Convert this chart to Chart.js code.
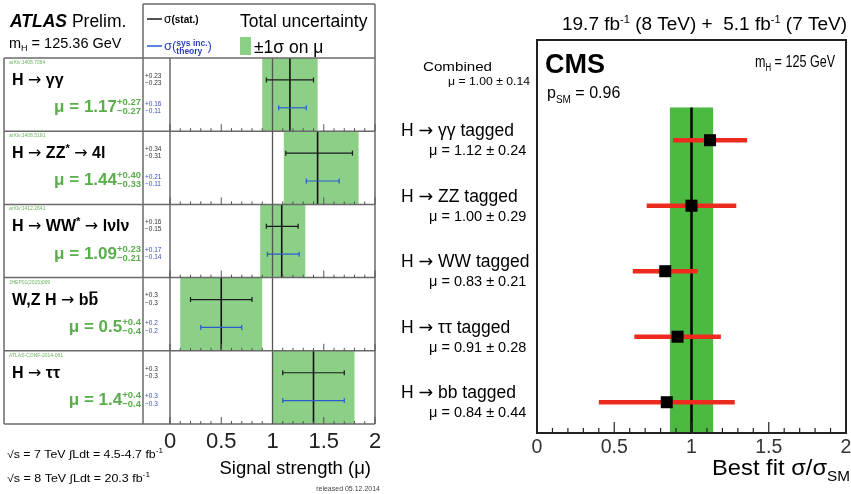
<!DOCTYPE html>
<html>
<head>
<meta charset="utf-8">
<script src="https://cdn.jsdelivr.net/npm/chart.js@4/dist/chart.umd.min.js"></script>
<style>
  html, body { margin: 0; padding: 0; background: #fff; }
  #wrap { position: relative; width: 851px; height: 494px; }
  #wrap canvas { position: absolute; left: 0; top: 0; }
</style>
</head>
<body>
<div id="wrap">
  <canvas id="atlas" width="851" height="494"></canvas>
  <canvas id="cms" width="851" height="494"></canvas>
</div>
<script>
// signal strength axis (both panels)
const muTicks = [0, 0.5, 1, 1.5, 2];

// ATLAS channels, top to bottom
const atlasChannels = ['H → γγ', 'H → ZZ* → 4l', 'H → WW* → lνlν', 'W,Z H → bb\u0304', 'H → ττ'];
const atlasRefs = ['arXiv:1408.7084', 'arXiv:1408.5191', 'arXiv:1412.2641', 'JHEP01(2015)069', 'ATLAS-CONF-2014-061'];
const atlasDigits = [2, 2, 2, 1, 1];
const atlasMu = [1.17, 1.44, 1.09, 0.5, 1.4];
const atlasTotUp = [0.27, 0.40, 0.23, 0.4, 0.4];
const atlasTotDn = [0.27, 0.33, 0.21, 0.4, 0.4];
const atlasStatUp = [0.23, 0.34, 0.16, 0.3, 0.3];
const atlasStatDn = [0.23, 0.31, 0.15, 0.3, 0.3];
const atlasSysUp = [0.16, 0.21, 0.17, 0.2, 0.3];
const atlasSysDn = [0.11, 0.11, 0.14, 0.2, 0.3];

// CMS channels, top to bottom
const cmsChannels = ['H → γγ tagged', 'H → ZZ tagged', 'H → WW tagged', 'H → ττ tagged', 'H → bb tagged'];
const cmsMu = [1.12, 1.00, 0.83, 0.91, 0.84];
const cmsErr = [0.24, 0.29, 0.21, 0.28, 0.44];
const cmsCombMu = 1.00;
const cmsCombErr = 0.14;

const SANS = '"Liberation Sans", Arial, Helvetica, sans-serif';
const ARROW_FONT = '"DejaVu Sans", sans-serif';
const font = (size, weight, style) => `${style || 'normal'} ${weight || 'normal'} ${size}px ${SANS}`;

// arrows come from DejaVu, which has a proper full-width glyph
function splitArrows(items) {
  const out = [];
  items.forEach(it => {
    if (it.t === undefined || it.t.indexOf('→') < 0) { out.push(it); return; }
    it.t.split('→').forEach((part, k) => {
      if (k > 0) out.push(Object.assign({}, it, { t: '→', font: it.font.replace(SANS, ARROW_FONT).replace('bold', 'normal'), over: 0 }));
      if (part) out.push(Object.assign({}, it, { t: part }));
    });
  });
  return out;
}

// draw a row of text pieces; {up, dn} pieces are stacked super/subscripts.
// An optional width squeezes or stretches the whole row to that size.
function runs(ctx, items, x, y, align, width) {
  items = splitArrows(items);
  ctx.save();
  ctx.textAlign = 'left';
  ctx.textBaseline = 'alphabetic';
  let widths = items.map(it => {
    ctx.font = it.font;
    if (it.up !== undefined) return Math.max(ctx.measureText(it.up).width, ctx.measureText(it.dn).width);
    return ctx.measureText(it.t).width;
  });
  let total = widths.reduce((a, b) => a + b, 0);
  const sx = width ? width / total : 1;
  widths = widths.map(w => w * sx);
  total *= sx;
  let cx = align === 'right' ? x - total : align === 'center' ? x - total / 2 : x;
  items.forEach((it, k) => {
    ctx.font = it.font;
    ctx.fillStyle = it.color || '#000';
    ctx.save();
    ctx.translate(cx, y);
    ctx.scale(sx, 1);
    if (it.up !== undefined) {
      ctx.fillText(it.up, 0, it.upDy);
      ctx.fillText(it.dn, 0, it.dnDy);
    } else {
      ctx.fillText(it.t, 0, it.dy || 0);
    }
    if (it.over) {
      ctx.strokeStyle = it.color || '#000';
      ctx.lineWidth = 1.5;
      ctx.beginPath();
      ctx.moveTo(1, it.over);
      ctx.lineTo(widths[k] / sx - 1, it.over);
      ctx.stroke();
    }
    ctx.restore();
    cx += widths[k];
  });
  ctx.restore();
  return total;
}

function line(ctx, x0, y0, x1, y1) {
  ctx.beginPath();
  ctx.moveTo(x0, y0);
  ctx.lineTo(x1, y1);
  ctx.stroke();
}

// horizontal error bar with optional end caps
function errBar(ctx, xa, xb, yc, cap, color, lw) {
  ctx.strokeStyle = color;
  ctx.lineWidth = lw;
  line(ctx, xa, yc, xb, yc);
  if (cap) {
    line(ctx, xa, yc - cap, xa, yc + cap);
    line(ctx, xb, yc - cap, xb, yc + cap);
  }
}

// channel name: '*' becomes a superscript, a combining macron becomes a bar
function channelRuns(str, size) {
  const out = [];
  let buf = '';
  const chars = Array.from(str);
  for (let k = 0; k < chars.length; k++) {
    const c = chars[k];
    if (c === '*') {
      if (buf) out.push({ t: buf, font: font(size, 'bold') });
      buf = '';
      out.push({ t: '*', font: font(size * 0.7, 'bold'), dy: -6 });
    } else if (chars[k + 1] === '\u0304') {
      if (buf) out.push({ t: buf, font: font(size, 'bold') });
      buf = '';
      out.push({ t: c, font: font(size, 'bold'), over: -size * 0.78 });
      k++;
    } else {
      buf += c;
    }
  }
  if (buf) out.push({ t: buf, font: font(size, 'bold') });
  return out;
}

const atlasPlot = {
  id: 'atlasPlot',
  beforeDatasetsDraw(chart) {
    const { ctx, scales: { x, y } } = chart;
    ctx.save();
    atlasMu.forEach((m, i) => {
      const x0 = x.getPixelForValue(m - atlasTotDn[i]);
      const x1 = x.getPixelForValue(m + atlasTotUp[i]);
      const y0 = y.getPixelForValue(i);
      const y1 = y.getPixelForValue(i + 1);
      ctx.fillStyle = '#8ccf86';
      ctx.fillRect(x0, y0, x1 - x0, y1 - y0);
    });
    ctx.strokeStyle = '#555';
    ctx.lineWidth = 1.3;
    line(ctx, x.getPixelForValue(1), y.getPixelForValue(0), x.getPixelForValue(1), y.getPixelForValue(atlasMu.length));
    ctx.restore();
  },
  afterDatasetsDraw(chart) {
    const { ctx, scales: { x, y } } = chart;
    ctx.save();
    atlasMu.forEach((m, i) => {
      errBar(ctx, x.getPixelForValue(m - atlasStatDn[i]), x.getPixelForValue(m + atlasStatUp[i]),
        y.getPixelForValue(i + 0.30), 2.5, '#1a1a1a', 1.2);
      errBar(ctx, x.getPixelForValue(m - atlasSysDn[i]), x.getPixelForValue(m + atlasSysUp[i]),
        y.getPixelForValue(i + 0.68), 2.5, '#2a5bd0', 1.2);
    });
    ctx.restore();
  },
  afterDraw(chart) {
    const { ctx, chartArea: area, scales: { x, y } } = chart;
    const n = atlasMu.length;
    const left = 4, mid = 143, top = 4;
    const rowTop = i => y.getPixelForValue(i);
    ctx.save();
    // table frame
    ctx.strokeStyle = '#6a6a6a';
    ctx.lineWidth = 1.5;
    for (let i = 0; i <= n; i++) line(ctx, left, rowTop(i), area.right, rowTop(i));
    line(ctx, mid, top, area.right, top);
    line(ctx, left, rowTop(0), left, rowTop(n));
    line(ctx, mid, top, mid, rowTop(n));
    line(ctx, area.left, rowTop(0), area.left, rowTop(n));
    line(ctx, area.right, top, area.right, rowTop(n));
    // ticks along the bottom of every row
    ctx.strokeStyle = '#555';
    ctx.lineWidth = 1;
    for (let i = 1; i <= n; i++) {
      for (let k = 0; k <= 20; k++) {
        const v = k / 10;
        const len = k % 5 === 0 ? 7 : 3;
        const px = x.getPixelForValue(v);
        line(ctx, px, rowTop(i), px, rowTop(i) - len);
      }
    }
    // tick labels
    muTicks.forEach(v => {
      runs(ctx, [{ t: String(v), font: font(22), color: '#222' }], x.getPixelForValue(v), 448, 'center');
    });
    // row texts
    atlasChannels.forEach((name, i) => {
      const t = rowTop(i);
      const d = atlasDigits[i];
      runs(ctx, [{ t: atlasRefs[i], font: font(5), color: '#6bb25f' }], 9, t + 6, 'left');
      runs(ctx, channelRuns(name, 16), 12, y.getPixelForValue(i + 0.37), 'left');
      runs(ctx, [
        { t: 'μ = ' + atlasMu[i].toFixed(d), font: font(17, 'bold'), color: '#5aae4c' },
        { up: '+' + atlasTotUp[i].toFixed(d), dn: '−' + atlasTotDn[i].toFixed(d), font: font(9.5, 'bold'), color: '#5aae4c', upDy: -7, dnDy: 2 }
      ], 141, y.getPixelForValue(i + 0.74), 'right');
      const sd = i < 3 ? 2 : 1;
      runs(ctx, [{ t: '+' + atlasStatUp[i].toFixed(sd), font: font(6.5), color: '#333' }], 145, y.getPixelForValue(i + 0.27), 'left');
      runs(ctx, [{ t: '−' + atlasStatDn[i].toFixed(sd), font: font(6.5), color: '#333' }], 145, y.getPixelForValue(i + 0.37), 'left');
      runs(ctx, [{ t: '+' + atlasSysUp[i].toFixed(sd), font: font(6.5), color: '#3a4fc0' }], 145, y.getPixelForValue(i + 0.65), 'left');
      runs(ctx, [{ t: '−' + atlasSysDn[i].toFixed(sd), font: font(6.5), color: '#3a4fc0' }], 145, y.getPixelForValue(i + 0.75), 'left');
    });
    // header
    runs(ctx, [
      { t: 'ATLAS', font: font(17.5, 'bold', 'italic') },
      { t: ' Prelim.', font: font(17.5) }
    ], 10, 27, 'left');
    runs(ctx, [
      { t: 'm', font: font(14.5) },
      { t: 'H', font: font(9), dy: 3 },
      { t: ' = 125.36 GeV', font: font(14.5) }
    ], 9, 48, 'left');
    // legend
    ctx.strokeStyle = '#1a1a1a';
    ctx.lineWidth = 1.5;
    line(ctx, 147, 19, 162, 19);
    runs(ctx, [
      { t: 'σ', font: font(12) },
      { t: '(stat.)', font: font(10, 'bold') }
    ], 164, 23, 'left');
    ctx.strokeStyle = '#2a5bd0';
    line(ctx, 147, 46, 162, 46);
    runs(ctx, [
      { t: 'σ(', font: font(13), color: '#2a3fb8' },
      { up: 'sys inc.', dn: 'theory', font: font(8.5, 'bold'), color: '#2a3fb8', upDy: -4, dnDy: 4 },
      { t: ')', font: font(13), color: '#2a3fb8' }
    ], 164, 50, 'left');
    runs(ctx, [{ t: 'Total uncertainty', font: font(17.5) }], 240, 27, 'left');
    ctx.fillStyle = '#8ccf86';
    ctx.fillRect(240, 37, 11, 18);
    runs(ctx, [{ t: '±1σ on μ', font: font(17.5) }], 254, 53, 'left');
    // footer
    runs(ctx, [
      { t: '√s = 7 TeV ∫Ldt = 4.5-4.7 fb', font: font(10.5) },
      { t: '-1', font: font(7), dy: -5 }
    ], 7, 458, 'left', 156);
    runs(ctx, [
      { t: '√s = 8 TeV ∫Ldt = 20.3 fb', font: font(10.5) },
      { t: '-1', font: font(7), dy: -5 }
    ], 7, 482, 'left', 143);
    runs(ctx, [{ t: 'Signal strength (μ)', font: font(18.5) }], 371, 474, 'right');
    runs(ctx, [{ t: 'released 05.12.2014', font: font(7), color: '#444' }], 380, 491, 'right');
    ctx.restore();
  }
};

const cmsPlot = {
  id: 'cmsPlot',
  beforeDatasetsDraw(chart) {
    const { ctx, chartArea: area, scales: { x, y } } = chart;
    ctx.save();
    const yTop = y.getPixelForValue(0.5);
    const x0 = x.getPixelForValue(cmsCombMu - cmsCombErr);
    const x1 = x.getPixelForValue(cmsCombMu + cmsCombErr);
    ctx.fillStyle = '#4cb940';
    ctx.fillRect(x0, yTop, x1 - x0, area.bottom - yTop);
    ctx.strokeStyle = '#000';
    ctx.lineWidth = 2.5;
    line(ctx, x.getPixelForValue(cmsCombMu), yTop, x.getPixelForValue(cmsCombMu), area.bottom);
    cmsMu.forEach((m, i) => {
      errBar(ctx, x.getPixelForValue(m - cmsErr[i]), x.getPixelForValue(m + cmsErr[i]),
        y.getPixelForValue(i + 1), 0, '#ee2a1e', 4.5);
    });
    ctx.restore();
  },
  afterDraw(chart) {
    const { ctx, chartArea: area, scales: { x, y } } = chart;
    ctx.save();
    ctx.strokeStyle = '#222';
    ctx.lineWidth = 2;
    ctx.strokeRect(area.left, area.top, area.right - area.left, area.bottom - area.top);
    ctx.lineWidth = 1.2;
    for (let k = 0; k <= 20; k++) {
      const px = x.getPixelForValue(k / 10);
      line(ctx, px, area.bottom, px, area.bottom - (k % 5 === 0 ? 11 : 5));
    }
    muTicks.forEach(v => {
      runs(ctx, [{ t: String(v), font: font(19.5), color: '#333' }], x.getPixelForValue(v), 453, 'center');
    });
    runs(ctx, [
      { t: 'Best fit σ/σ', font: font(22.5) },
      { t: 'SM', font: font(14.5), dy: 6 }
    ], 850, 475, 'right', 138);
    runs(ctx, [
      { t: '19.7 fb', font: font(18) },
      { t: '-1', font: font(10.5), dy: -7 },
      { t: ' (8 TeV) +  5.1 fb', font: font(18) },
      { t: '-1', font: font(10.5), dy: -7 },
      { t: ' (7 TeV)', font: font(18) }
    ], 847, 30, 'right', 285);
    runs(ctx, [{ t: 'CMS', font: font(27, 'bold') }], 545, 73, 'left');
    runs(ctx, [
      { t: 'm', font: font(16) },
      { t: 'H', font: font(10), dy: 4 },
      { t: ' = 125 GeV', font: font(16) }
    ], 755, 67, 'left', 80);
    runs(ctx, [
      { t: 'p', font: font(16) },
      { t: 'SM', font: font(10), dy: 5 },
      { t: ' = 0.96', font: font(16) }
    ], 547, 98, 'left');
    // channel labels left of the frame
    const yc = y.getPixelForValue(0);
    runs(ctx, [{ t: 'Combined', font: font(12.5) }], 423, yc - 4, 'left', 69);
    runs(ctx, [{ t: 'μ = ' + cmsCombMu.toFixed(2) + ' ± ' + cmsCombErr.toFixed(2), font: font(10.5) }], 448, yc + 10, 'left', 82);
    cmsChannels.forEach((name, i) => {
      const py = y.getPixelForValue(i + 1);
      runs(ctx, [{ t: name, font: font(17.5) }], 401, py - 4, 'left');
      runs(ctx, [{ t: 'μ = ' + cmsMu[i].toFixed(2) + ' ± ' + cmsErr[i].toFixed(2), font: font(14.5) }], 429, py + 15, 'left');
    });
    ctx.restore();
  }
};

const common = {
  responsive: false,
  animation: false,
  events: [],
  plugins: { legend: { display: false }, tooltip: { enabled: false } }
};

// ATLAS: central values drawn as vertical line markers spanning each row
new Chart(document.getElementById('atlas'), {
  type: 'scatter',
  data: {
    datasets: [{
      data: atlasMu.map((m, i) => ({ x: m, y: i + 0.5 })),
      pointStyle: 'line',
      rotation: 90,
      pointRadius: c => {
        const s = c.chart.scales.y;
        return Math.abs(s.getPixelForValue(1) - s.getPixelForValue(0)) / 2;
      },
      borderColor: '#111',
      borderWidth: 1.6
    }]
  },
  options: Object.assign({}, common, {
    layout: { padding: { left: 170, right: 476, top: 58, bottom: 70 }, autoPadding: false },
    scales: {
      x: { type: 'linear', min: 0, max: 2, display: false },
      y: { type: 'linear', min: 0, max: atlasMu.length, reverse: true, display: false }
    }
  }),
  plugins: [atlasPlot]
});

// CMS: best fit per channel as black squares
new Chart(document.getElementById('cms'), {
  type: 'scatter',
  data: {
    datasets: [{
      data: cmsMu.map((m, i) => ({ x: m, y: i + 1 })),
      pointStyle: 'rect',
      pointRadius: 8.5,
      backgroundColor: '#000',
      borderWidth: 0
    }]
  },
  options: Object.assign({}, common, {
    layout: { padding: { left: 537, right: 5, top: 40, bottom: 61 }, autoPadding: false },
    scales: {
      x: { type: 'linear', min: 0, max: 2, display: false },
      y: { type: 'linear', min: -0.53, max: 5.47, reverse: true, display: false }
    }
  }),
  plugins: [cmsPlot]
});
</script>
</body>
</html>
